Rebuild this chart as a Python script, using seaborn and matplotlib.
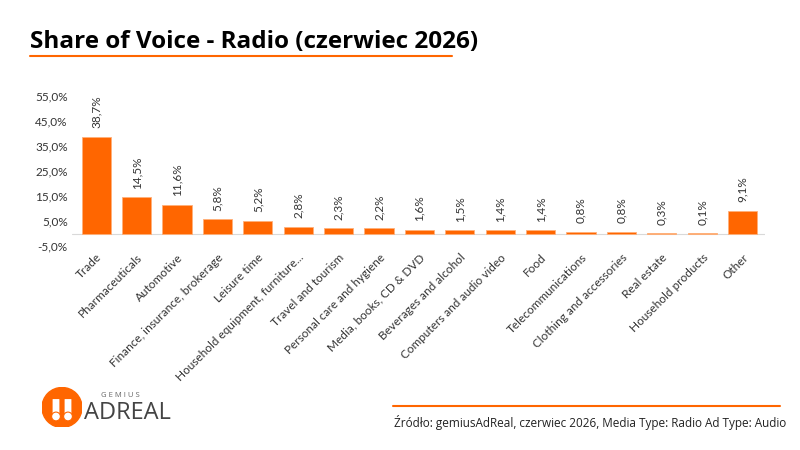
import pandas as pd
import matplotlib.pyplot as plt
import seaborn as sns
from matplotlib.patches import Circle, FancyBboxPatch

# data
categories = ["Trade", "Pharmaceuticals", "Automotive", "Finance, insurance, brokerage",
              "Leisure time", "Household equipment, furniture...", "Travel and tourism",
              "Personal care and hygiene", "Media, books, CD & DVD", "Beverages and alcohol",
              "Computers and audio video", "Food", "Telecommunications",
              "Clothing and accessories", "Real estate", "Household products", "Other"]
shares = [38.7, 14.5, 11.6, 5.8, 5.2, 2.8, 2.3, 2.2, 1.6, 1.5, 1.4, 1.4, 0.8, 0.8, 0.3, 0.1, 9.1]
y_ticks = [-5, 5, 15, 25, 35, 45, 55]

orange = "#FF6600"
grey_txt = "#333333"

sns.set_style("white")
plt.rcParams['font.family'] = ['Lato', 'DejaVu Sans']

df = pd.DataFrame({"category": categories, "share": shares})

fig = plt.figure(figsize=(8, 4.5), dpi=100)
ax = fig.add_axes([0.09, 0.453, 0.866, 0.334])

sns.barplot(data=df, x="category", y="share", color=orange, saturation=1,
            width=0.72, edgecolor="#ffb07a", linewidth=0.6, ax=ax)

ax.set_ylim(-5, 55)
ax.set_yticks(y_ticks)
ax.set_yticklabels([f"{t:.1f}%".replace(".", ",") for t in y_ticks],
                   fontsize=8.5, color=grey_txt)
ax.set_xlabel("")
ax.set_ylabel("")
ax.set_xlim(-0.6, len(categories) - 0.45)
ax.set_xticks(range(len(categories)))
ax.set_xticklabels(categories, rotation=45, ha="right", rotation_mode="anchor",
                   fontsize=8.5, color=grey_txt)
ax.tick_params(axis="both", length=0, pad=3)
ax.tick_params(axis="x", pad=4)
for s in ax.spines.values():
    s.set_visible(False)
ax.axhline(0, color="#d9d9d9", lw=0.8, zorder=0)

# value labels
for i, v in enumerate(shares):
    ax.annotate(f"{v:.1f}%".replace(".", ","), (i, v), xytext=(0, 6),
                textcoords="offset points", rotation=90, ha="center", va="bottom",
                fontsize=8.5, color=grey_txt)

# title + underline
fig.text(0.0375, 0.907, "Share of Voice - Radio (czerwiec 2026)", fontsize=17.5,
         fontweight="bold", color="black", ha="left", va="center",
         family=['Open Sans', 'DejaVu Sans'])
fig.add_artist(plt.Line2D([0.0375, 0.565], [0.876, 0.876], color=orange, lw=1.5))

# source footer
fig.add_artist(plt.Line2D([0.491, 0.975], [0.098, 0.098], color=orange, lw=1.5))
fig.text(0.983, 0.062, "Źródło: gemiusAdReal, czerwiec 2026, Media Type: Radio Ad Type: Audio",
         fontsize=8.5, color="#222222", ha="right", va="center",
         family=['Open Sans', 'DejaVu Sans'])

# logo
lax = fig.add_axes([0.0525, 0.05, 0.05, 0.089])
lax.set_xlim(-1, 1)
lax.set_ylim(-1, 1)
lax.set_aspect("equal")
lax.axis("off")
lax.add_patch(Circle((0, 0), 1, color=orange))
for dx in (-0.3, 0.3):
    lax.add_patch(FancyBboxPatch((dx - 0.15, -0.4), 0.30, 0.8,
                                 boxstyle="round,pad=0.02", fc="white", ec="none"))
    lax.add_patch(Circle((dx, -0.45), 0.22, fc="white", ec=orange, lw=0.8))
fig.text(0.151, 0.122, "G E M I U S", fontsize=5.5, color="#666666", ha="center", va="center",
         family=['Open Sans', 'DejaVu Sans'])
fig.text(0.159, 0.083, "ADREAL", fontsize=17, color="#444444", ha="center", va="center",
         family=['Open Sans', 'DejaVu Sans'])

fig.savefig("out.png", dpi=100)
